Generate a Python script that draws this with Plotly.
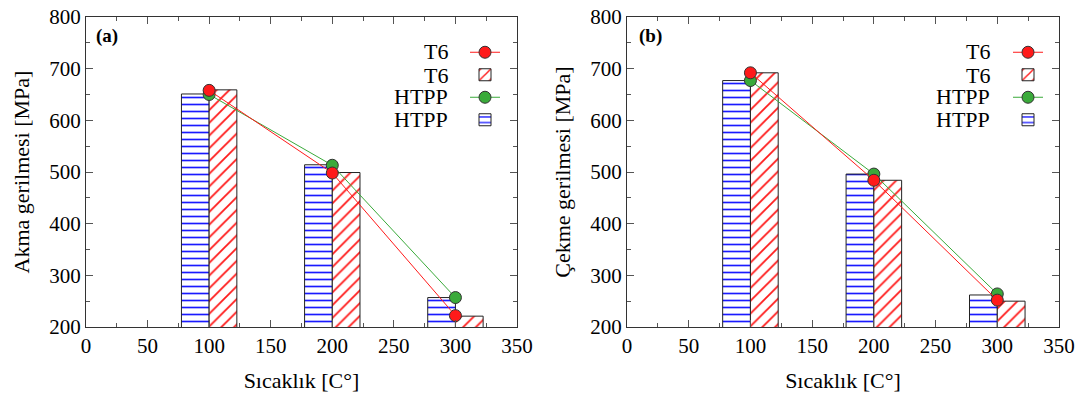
import plotly.graph_objects as go

temps = [100, 200, 300]
# Panel (a) yield stress
a_t6_bar = [659, 499, 221]
a_htpp_bar = [651, 514, 257]
a_t6_pts = [658, 498, 222]
a_htpp_pts = [650, 513, 257]
# Panel (b) tensile stress
b_t6_bar = [692, 484, 250]
b_htpp_bar = [677, 496, 262]
b_t6_pts = [692, 484, 252]
b_htpp_pts = [677, 496, 264]

x_ticks = [0, 50, 100, 150, 200, 250, 300, 350]
y_ticks = [200, 300, 400, 500, 600, 700, 800]
legend_labels = ["T6", "T6", "HTPP", "HTPP"]

FONT = "Liberation Serif, Times New Roman, serif"
RED = "#ff1a1a"
GREEN = "#3aaa3a"
BLUE = "#1a1aff"
BW = 22.5

fig = go.Figure()

def add_panel(xa, ya, legend, t6_bar, htpp_bar, t6_pts, htpp_pts):
    fig.add_trace(go.Bar(x=temps, y=htpp_bar, width=BW, offset=-BW, xaxis=xa, yaxis=ya,
                         name="", legend=legend, legendrank=4,
                         marker=dict(color="white", line=dict(color="#222", width=1),
                                     pattern=dict(shape="-", fgcolor=BLUE, bgcolor="white",
                                                  size=7, solidity=0.24))))
    fig.add_trace(go.Bar(x=temps, y=t6_bar, width=BW, offset=0, xaxis=xa, yaxis=ya,
                         name="", legend=legend, legendrank=2,
                         marker=dict(color="white", line=dict(color="#222", width=1),
                                     pattern=dict(shape="/", fgcolor=RED, bgcolor="white",
                                                  size=9, solidity=0.2))))
    fig.add_trace(go.Scatter(x=temps, y=htpp_pts, mode="lines+markers", xaxis=xa, yaxis=ya,
                             name="", legend=legend, legendrank=3,
                             line=dict(color=GREEN, width=1),
                             marker=dict(color=GREEN, size=12, line=dict(color="#333", width=1))))
    fig.add_trace(go.Scatter(x=temps, y=t6_pts, mode="lines+markers", xaxis=xa, yaxis=ya,
                             name="", legend=legend, legendrank=1,
                             line=dict(color=RED, width=1),
                             marker=dict(color=RED, size=12, line=dict(color="#333", width=1))))

add_panel("x", "y", "legend", a_t6_bar, a_htpp_bar, a_t6_pts, a_htpp_pts)
add_panel("x2", "y2", "legend2", b_t6_bar, b_htpp_bar, b_t6_pts, b_htpp_pts)

ydom = [1 - 327 / 396, 1 - 17 / 396]
TF = dict(family=FONT, size=21, color="black")
TITLEF = dict(family=FONT, size=22, color="black")
axis_common = dict(showgrid=False, zeroline=False, showline=True, linecolor="#333", linewidth=1,
                   mirror="ticks", ticks="inside", ticklen=7, tickcolor="#555", automargin=False,
                   tickfont=TF)

xcommon = dict(axis_common, range=[0, 350], tickvals=x_ticks,
               minor=dict(dtick=25, tick0=0, ticks="inside", ticklen=4, tickcolor="#555"),
               title=dict(text="Sıcaklık [C°]", font=TITLEF, standoff=15))
ycommon = dict(axis_common, range=[200, 800], tickvals=y_ticks, domain=ydom,
               minor=dict(dtick=50, tick0=0, ticks="inside", ticklen=4, tickcolor="#555"))

leg_common = dict(y=1 - 36 / 396, xanchor="left", yanchor="top",
                  bgcolor="rgba(0,0,0,0)", itemwidth=30,
                  font=dict(family=FONT, size=15, color="black"))

fig.update_layout(
    template="none",
    font=dict(family=FONT, size=21, color="black"),
    width=1080, height=396, margin=dict(l=0, r=0, t=0, b=0, autoexpand=False),
    paper_bgcolor="white", plot_bgcolor="white",
    barmode="overlay", showlegend=True,
    xaxis=dict(xcommon, domain=[86 / 1080, 517 / 1080], anchor="y"),
    xaxis2=dict(xcommon, domain=[627 / 1080, 1059 / 1080], anchor="y2"),
    yaxis=dict(ycommon, anchor="x",
               title=dict(text="Akma gerilmesi [MPa]", font=TITLEF, standoff=13)),
    yaxis2=dict(ycommon, anchor="x2",
                title=dict(text="Çekme gerilmesi [MPa]", font=TITLEF, standoff=13)),
    legend=dict(leg_common, x=465 / 1080),
    legend2=dict(leg_common, x=1008 / 1080),
)

# Legend text labels (to the left of the symbols) and panel tags
ys = [52, 75, 97, 120]
for xr in (450, 992):
    for lab, yy in zip(legend_labels, ys):
        fig.add_annotation(x=xr / 1080, y=1 - yy / 396, xref="paper", yref="paper",
                           text=lab, showarrow=False, xanchor="right", yanchor="middle",
                           font=dict(family=FONT, size=22, color="black"))
for txt, xl in (("<b>(a)</b>", 94), ("<b>(b)</b>", 637)):
    fig.add_annotation(x=xl / 1080, y=1 - 36 / 396, xref="paper", yref="paper",
                       text=txt, showarrow=False, xanchor="left", yanchor="middle",
                       font=dict(family=FONT, size=19, color="black"))

fig.write_html("out.html")
